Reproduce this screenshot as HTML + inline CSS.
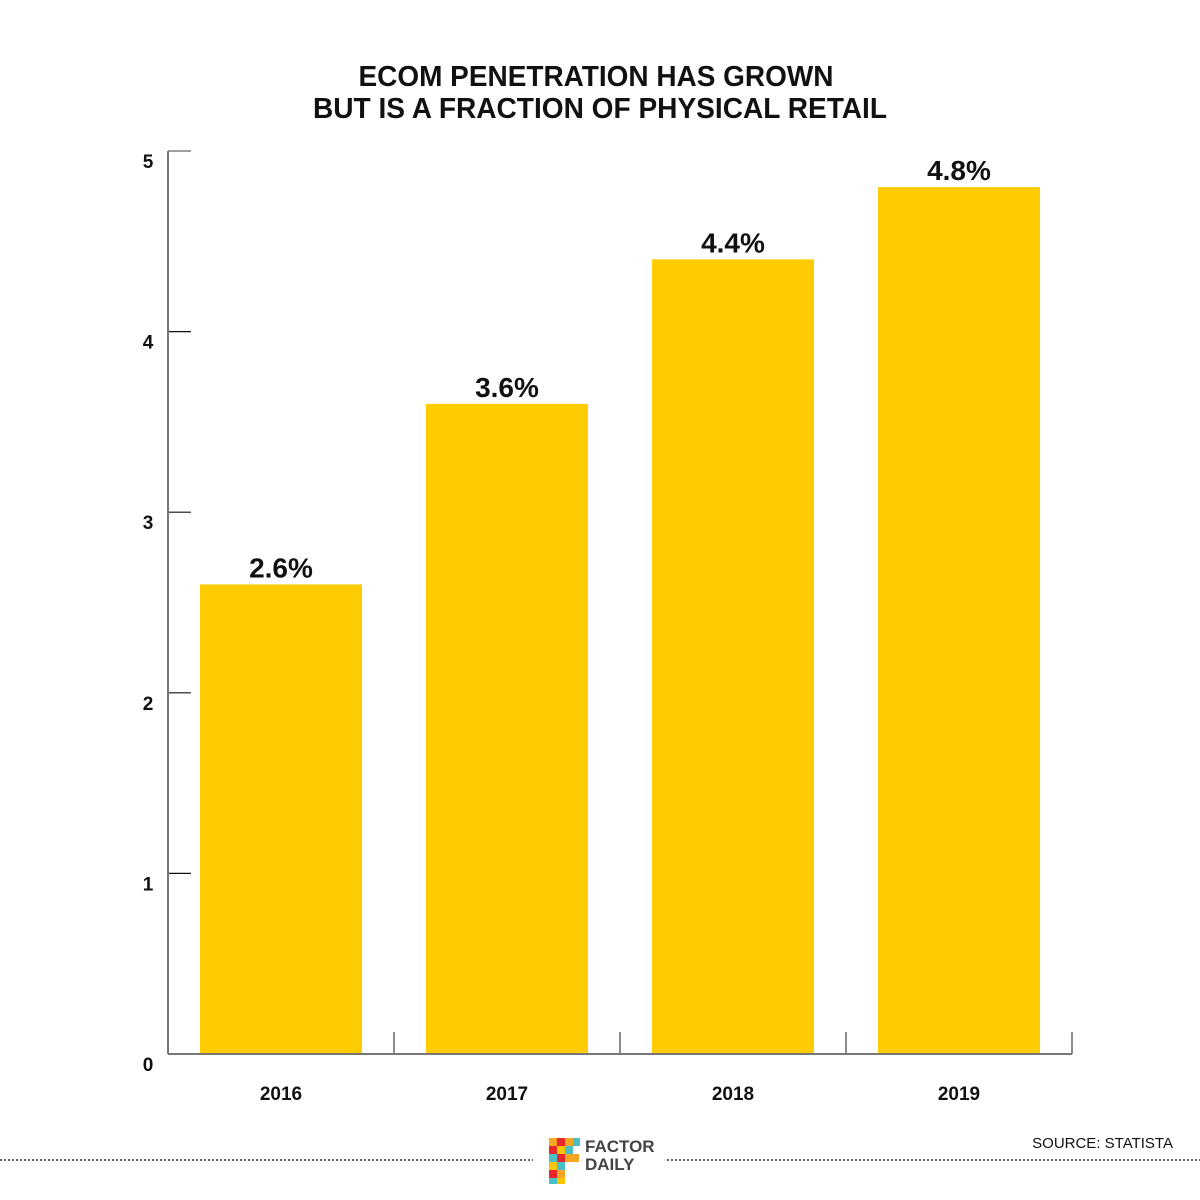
<!DOCTYPE html>
<html><head><meta charset="utf-8">
<style>
html,body{margin:0;padding:0;background:#fff;}
svg{display:block;font-family:"Liberation Sans",Arial,sans-serif;}
</style></head>
<body>
<svg id="chart" width="1200" height="1200" viewBox="0 0 1200 1200">
<text x="596" y="86" text-anchor="middle" font-size="29" font-weight="bold" fill="#111" textLength="475" lengthAdjust="spacingAndGlyphs">ECOM PENETRATION HAS GROWN</text>
<text x="600" y="118" text-anchor="middle" font-size="29" font-weight="bold" fill="#111" textLength="574" lengthAdjust="spacingAndGlyphs">BUT IS A FRACTION OF PHYSICAL RETAIL</text>
<g id="plot"></g>
<line x1="0" y1="1160" x2="533" y2="1160" stroke="#333" stroke-width="1.5" stroke-dasharray="2,2"/>
<line x1="667" y1="1160" x2="1200" y2="1160" stroke="#333" stroke-width="1.5" stroke-dasharray="2,2"/>
<g>
<rect x="549" y="1138" width="8" height="8" fill="#f6a623"/><rect x="557" y="1138" width="8" height="8" fill="#e8262c"/><rect x="565" y="1138" width="8" height="8" fill="#f6a623"/><rect x="573" y="1138" width="7" height="8" fill="#4bbfc6"/>
<rect x="549" y="1146" width="8" height="8" fill="#e8262c"/><rect x="557" y="1146" width="8" height="8" fill="#f7c600"/><rect x="565" y="1146" width="8" height="8" fill="#4bbfc6"/>
<rect x="549" y="1154" width="8" height="8" fill="#4bbfc6"/><rect x="557" y="1154" width="8" height="8" fill="#e8262c"/><rect x="565" y="1154" width="8" height="8" fill="#f6a623"/><rect x="573" y="1154" width="6" height="8" fill="#f6a623"/>
<rect x="549" y="1162" width="8" height="8" fill="#f7c600"/><rect x="557" y="1162" width="8" height="8" fill="#4bbfc6"/>
<rect x="549" y="1170" width="8" height="8" fill="#e8262c"/><rect x="557" y="1170" width="8" height="8" fill="#f6a623"/>
<rect x="549" y="1178" width="8" height="6" fill="#4bbfc6"/><rect x="557" y="1178" width="8" height="6" fill="#f7c600"/>
<text x="585" y="1152" font-size="17" font-weight="bold" fill="#444">FACTOR</text>
<text x="585" y="1170" font-size="17" font-weight="bold" fill="#444">DAILY</text>
</g>
<text x="1173" y="1148" text-anchor="end" font-size="15" fill="#111">SOURCE: STATISTA</text>
</svg>
<script>
const categories = ["2016", "2017", "2018", "2019"];
const values = [2.6, 3.6, 4.4, 4.8];
const valueLabels = ["2.6%", "3.6%", "4.4%", "4.8%"];
const yTicks = [0, 1, 2, 3, 4, 5];

const NS = "http://www.w3.org/2000/svg";
const plot = document.getElementById("plot");
const x0 = 168, x1 = 1072, y0 = 1054, yTop = 151, yMax = 5;
const band = (x1 - x0) / categories.length;
const barW = 162, barOff = 32;
const yScale = v => y0 - (v / yMax) * (y0 - yTop);
const xBand = i => x0 + i * band;
function mk(tag, attrs) {
  const e = document.createElementNS(NS, tag);
  for (const k in attrs) e.setAttribute(k, attrs[k]);
  plot.appendChild(e);
  return e;
}
// bars
values.forEach((v, i) => {
  const r = mk("rect", {x: xBand(i) + barOff, y: yScale(v), width: barW, height: y0 - yScale(v), fill: "#fecc00"});
  
  
  const t = mk("text", {x: xBand(i) + barOff + barW / 2, y: yScale(v) - 7, "text-anchor": "middle", "font-size": "28", "font-weight": "bold", fill: "#111"});
  t.textContent = valueLabels[i];
  
  
  const c = mk("text", {x: xBand(i) + band / 2, y: 1100, "text-anchor": "middle", "font-size": "19", "font-weight": "bold", fill: "#111"});
  c.textContent = categories[i];
  
  
  const tk = mk("line", {x1: xBand(i + 1), y1: y0, x2: xBand(i + 1), y2: y0 - 22, stroke: "#666", "stroke-width": "1.5"});
  
  
});
// y ticks
yTicks.forEach(v => {
  if (v > 0) {
    const l = mk("line", {x1: x0, y1: yScale(v), x2: x0 + 23, y2: yScale(v), stroke: v === yMax ? "#666" : "#111", "stroke-width": "1.2"});
    
    
  }
  const t = mk("text", {x: 148, y: yScale(v) + 17, "text-anchor": "middle", "font-size": "19", "font-weight": "bold", fill: "#111"});
  t.textContent = v;
  
  
});
// axes
const ya = mk("line", {x1: x0, y1: yTop, x2: x0, y2: y0, stroke: "#777", "stroke-width": "2"});


const xa = mk("line", {x1: x0, y1: y0, x2: x1, y2: y0, stroke: "#777", "stroke-width": "2"});


</script>
</body></html>
